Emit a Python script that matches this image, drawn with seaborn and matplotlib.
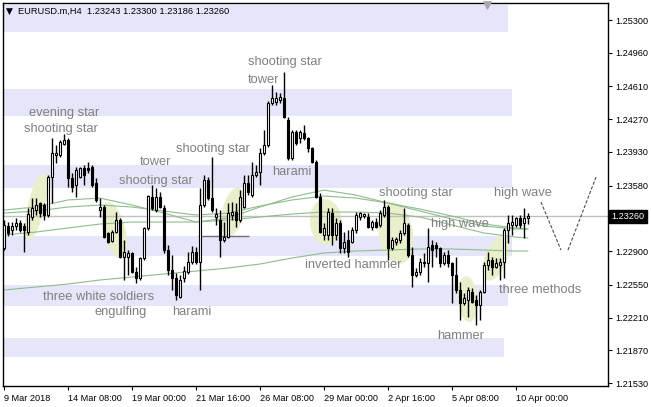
import numpy as np
import pandas as pd
import seaborn as sns
import matplotlib.pyplot as plt
from matplotlib.patches import Ellipse
from matplotlib.transforms import Affine2D

# EURUSD.m H4 candles, bar 0 = 9 Mar 2018 16:00
opens = [1.22932, 1.23160, 1.23119, 1.23160, 1.23192, 1.23160, 1.23098, 1.23254, 1.23327, 1.23399,
         1.23379, 1.23275, 1.23669, 1.23898, 1.23898, 1.24012, 1.24054, 1.23659, 1.23586, 1.23669,
         1.23763, 1.23763, 1.23773, 1.23607, 1.23327, 1.23358, 1.23088, 1.23005, 1.23098, 1.23223,
         1.22839, 1.22839, 1.22880, 1.22683, 1.22620, 1.22828, 1.23140, 1.23462, 1.23327, 1.23462,
         1.23347, 1.22911, 1.22704, 1.22620, 1.22423, 1.22620, 1.22683, 1.22787, 1.22890, 1.22787,
         1.23379, 1.23638, 1.23451, 1.23254, 1.23223, 1.23015, 1.23046, 1.23275, 1.23306, 1.23223,
         1.23358, 1.23607, 1.23482, 1.23690, 1.23721, 1.23919, 1.24002, 1.24438, 1.24448, 1.24469,
         1.24490, 1.24261, 1.23867, 1.24137, 1.24074, 1.24126, 1.24074, 1.23971, 1.23825, 1.23462,
         1.23067, 1.23067, 1.23295, 1.23067, 1.23192, 1.22932, 1.23015, 1.22994, 1.23119, 1.23254,
         1.23264, 1.23254, 1.23150, 1.23202, 1.23171, 1.23275, 1.23358, 1.22932, 1.22994, 1.23015,
         1.23088, 1.23171, 1.22859, 1.22652, 1.22683, 1.22776, 1.22776, 1.22963, 1.22963, 1.22932,
         1.22776, 1.22859, 1.22776, 1.22652, 1.22496, 1.22361, 1.22392, 1.22475, 1.22392, 1.22340,
         1.22475, 1.22755, 1.22807, 1.22735, 1.22755, 1.22787, 1.23119, 1.23171, 1.23171, 1.23244,
         1.23192, 1.23243]
highs = [1.23223, 1.23202, 1.23202, 1.23244, 1.23223, 1.23192, 1.23347, 1.23451, 1.23451, 1.23410,
         1.23399, 1.23690, 1.24074, 1.24002, 1.24054, 1.24116, 1.24074, 1.23711, 1.23773, 1.23773,
         1.23794, 1.23825, 1.23794, 1.23659, 1.23451, 1.23379, 1.23098, 1.23119, 1.23306, 1.23244,
         1.23015, 1.22911, 1.22890, 1.22735, 1.22839, 1.23150, 1.23482, 1.23586, 1.23555, 1.23514,
         1.23379, 1.22963, 1.22859, 1.22672, 1.22652, 1.22745, 1.22890, 1.22953, 1.22942, 1.23555,
         1.23690, 1.23669, 1.23877, 1.23347, 1.23327, 1.23202, 1.23399, 1.23410, 1.23399, 1.23534,
         1.23690, 1.23690, 1.23825, 1.23794, 1.23971, 1.24158, 1.24459, 1.24625, 1.24552, 1.24542,
         1.24760, 1.24293, 1.24158, 1.24158, 1.24158, 1.24209, 1.24084, 1.23981, 1.23846, 1.23503,
         1.23192, 1.23347, 1.23347, 1.23244, 1.23223, 1.23098, 1.23119, 1.23150, 1.23306, 1.23306,
         1.23295, 1.23295, 1.23223, 1.23244, 1.23327, 1.23431, 1.23379, 1.23046, 1.23046, 1.23119,
         1.23347, 1.23192, 1.22942, 1.22724, 1.22828, 1.22880, 1.23140, 1.23015, 1.22994, 1.22942,
         1.22890, 1.22911, 1.22787, 1.22839, 1.22579, 1.22465, 1.22527, 1.22517, 1.22444, 1.22496,
         1.22787, 1.22890, 1.22839, 1.22828, 1.22828, 1.23140, 1.23275, 1.23275, 1.23254, 1.23275,
         1.23347, 1.23300]
lows = [1.22911, 1.23057, 1.23067, 1.23119, 1.23098, 1.22890, 1.23067, 1.23223, 1.23275, 1.23254,
        1.23223, 1.23254, 1.23399, 1.23815, 1.23877, 1.24002, 1.23566, 1.23514, 1.23462, 1.23659,
        1.23586, 1.23711, 1.23566, 1.23410, 1.23254, 1.23036, 1.22984, 1.22994, 1.23088, 1.22828,
        1.22600, 1.22652, 1.22672, 1.22568, 1.22600, 1.22807, 1.23119, 1.23327, 1.23306, 1.23347,
        1.22880, 1.22652, 1.22496, 1.22392, 1.22413, 1.22579, 1.22662, 1.22766, 1.22766, 1.22496,
        1.23358, 1.23431, 1.23306, 1.23171, 1.22839, 1.22994, 1.23036, 1.23223, 1.23150, 1.23202,
        1.23347, 1.23482, 1.23462, 1.23669, 1.23586, 1.23898, 1.23981, 1.24417, 1.24417, 1.24438,
        1.24282, 1.23846, 1.23846, 1.24002, 1.24023, 1.24054, 1.23929, 1.23815, 1.23451, 1.23088,
        1.23015, 1.23015, 1.22963, 1.23015, 1.22880, 1.22880, 1.22839, 1.22984, 1.23088, 1.23223,
        1.23244, 1.23140, 1.23119, 1.23140, 1.23150, 1.23254, 1.22807, 1.22911, 1.22963, 1.22984,
        1.23067, 1.22839, 1.22527, 1.22631, 1.22652, 1.22735, 1.22579, 1.22735, 1.22839, 1.22735,
        1.22755, 1.22735, 1.22361, 1.22465, 1.22184, 1.22340, 1.22215, 1.22361, 1.22132, 1.22184,
        1.22465, 1.22704, 1.22652, 1.22724, 1.22600, 1.22620, 1.22984, 1.23067, 1.23150, 1.23140,
        1.23036, 1.23186]
closes = [1.23171, 1.23088, 1.23160, 1.23192, 1.23119, 1.23119, 1.23285, 1.23347, 1.23379, 1.23295,
          1.23275, 1.23669, 1.23919, 1.23919, 1.24033, 1.24054, 1.23659, 1.23566, 1.23742, 1.23763,
          1.23690, 1.23742, 1.23586, 1.23431, 1.23358, 1.23046, 1.22994, 1.23098, 1.23223, 1.22839,
          1.22890, 1.22880, 1.22683, 1.22620, 1.22828, 1.23140, 1.23472, 1.23347, 1.23462, 1.23358,
          1.22911, 1.22704, 1.22620, 1.22444, 1.22600, 1.22693, 1.22787, 1.22890, 1.22787, 1.23379,
          1.23638, 1.23451, 1.23327, 1.23285, 1.23015, 1.23046, 1.23295, 1.23306, 1.23223, 1.23462,
          1.23607, 1.23514, 1.23690, 1.23721, 1.23919, 1.24002, 1.24438, 1.24490, 1.24490, 1.24500,
          1.24293, 1.23867, 1.24137, 1.24023, 1.24137, 1.24074, 1.23971, 1.23825, 1.23462, 1.23098,
          1.23140, 1.23306, 1.23067, 1.23192, 1.22932, 1.22994, 1.22890, 1.23119, 1.23275, 1.23295,
          1.23285, 1.23150, 1.23202, 1.23150, 1.23295, 1.23358, 1.22932, 1.23015, 1.23025, 1.23088,
          1.23192, 1.22859, 1.22652, 1.22683, 1.22787, 1.22787, 1.22942, 1.22911, 1.22932, 1.22776,
          1.22859, 1.22776, 1.22652, 1.22496, 1.22361, 1.22413, 1.22496, 1.22371, 1.22340, 1.22475,
          1.22755, 1.22807, 1.22735, 1.22776, 1.22787, 1.23119, 1.23192, 1.23202, 1.23244, 1.23171,
          1.23244, 1.23260]

# moving averages, sampled every 8 bars
ma_bars = [0, 8, 16, 24, 32, 40, 48, 56, 64, 72, 80, 88, 96, 104, 112, 120, 128, 131]
ma_1 = [1.23327, 1.23358, 1.23431, 1.23451, 1.23379, 1.23295, 1.23202, 1.23244, 1.23358,
        1.23462, 1.23534, 1.23482, 1.23399, 1.23316, 1.23233, 1.23160, 1.23129, 1.23129]
ma_2 = [1.23295, 1.23316, 1.23358, 1.23379, 1.23358, 1.23316, 1.23275, 1.23295, 1.23368,
        1.23431, 1.23472, 1.23451, 1.23399, 1.23337, 1.23264, 1.23181, 1.23140, 1.23129]
ma_3 = [1.23067, 1.23098, 1.23140, 1.23181, 1.23202, 1.23202, 1.23202, 1.23223, 1.23254,
        1.23285, 1.23306, 1.23306, 1.23295, 1.23254, 1.23171, 1.23088, 1.23046, 1.23036]
ma_4 = [1.22496, 1.22527, 1.22558, 1.22600, 1.22631, 1.22662, 1.22693, 1.22724, 1.22766,
        1.22828, 1.22880, 1.22901, 1.22911, 1.22922, 1.22922, 1.22911, 1.22901, 1.22901]

# support / resistance zones: top, bottom, last bar
zone_top = [1.25456, 1.24583, 1.23794, 1.23057, 1.22548, 1.21997]
zone_bottom = [1.25175, 1.24303, 1.23555, 1.22849, 1.22330, 1.21800]
zone_end = [126, 127, 127, 127, 126, 125]

# pattern highlights: centre bar, centre price
hl_bar = [8.1, 27.6, 57.3, 80.5, 98.0, 123.0, 115.9]
hl_price = [1.23363, 1.23119, 1.23306, 1.23202, 1.23088, 1.22828, 1.22402]

pattern_text = ["evening star", "shooting star", "shooting star", "tower", "shooting star",
                "shooting star", "tower", "harami", "shooting star", "high wave",
                "three white soldiers", "engulfing", "harami", "inverted hammer",
                "high wave", "three methods", "hammer"]
pattern_bar = [15, 14.25, 52.25, 38, 38, 70.25, 65, 72, 103, 129.75,
               23.75, 29.25, 47, 87.25, 114, 134, 114.25]
pattern_price = [1.24334, 1.24168, 1.23960, 1.23825, 1.23628, 1.24864, 1.24677, 1.23721,
                 1.23503, 1.23503, 1.22423, 1.22267, 1.22267, 1.22755, 1.23181, 1.22496,
                 1.22018]

date_ticks = [0, 16, 32, 48, 64, 80, 96, 112, 128]
date_labels = ["9 Mar 2018", "14 Mar 08:00", "19 Mar 00:00", "21 Mar 16:00",
               "26 Mar 08:00", "29 Mar 00:00", "2 Apr 16:00", "5 Apr 08:00",
               "10 Apr 00:00"]
price_ticks = [1.25300, 1.24960, 1.24610, 1.24270, 1.23930, 1.23580,
               1.22900, 1.22550, 1.22210, 1.21870, 1.21530]
last_price = 1.23260

LAVENDER = "#E6E6FA"
HIGHLIGHT = "#E9EECB"
MA_COLOR = "#8FBC8F"
TEXT_GREY = "#808080"


def main():
    sns.set_style("white")
    plt.rcParams["font.family"] = ["Liberation Sans", "DejaVu Sans"]

    df = pd.DataFrame({"open": opens, "high": highs, "low": lows, "close": closes})
    df["bar"] = np.arange(len(df))
    up = df["close"] >= df["open"]

    fig = plt.figure(figsize=(6.51, 4.07), dpi=100)
    ax = fig.add_axes([0.0041, 0.0516, 0.92985, 0.94103])
    ax.set_xlim(-0.3, 151.0)
    ax.set_ylim(1.21499, 1.25477)

    for top, bottom, end in zip(zone_top, zone_bottom, zone_end):
        ax.fill_between([-0.3, end], bottom, top, color=LAVENDER, lw=0, zorder=0)

    # ellipses drawn in a pixel-like frame (1 unit = 1 px)
    px = Affine2D().scale(0.25, 0.00010386) + ax.transData
    shapes = [(68, 17, 77), (58, 22, 104), (50, 22, 77), (46, 32, 95),
              (62, 34, 100), (48, 22, 68), (46, 20, 95)]
    for b, p, (w, h, ang) in zip(hl_bar, hl_price, shapes):
        ax.add_patch(Ellipse((b * 4, p / 0.00010386), w, h, angle=ang,
                             transform=px, color=HIGHLIGHT, lw=0, zorder=1))

    ax.axhline(last_price, color="#C0C0C0", lw=1, zorder=2)
    ax.hlines(1.23057, 48.5, 61.25, color="#707070", lw=1, zorder=2)

    for ma in (ma_1, ma_2, ma_3, ma_4):
        sns.lineplot(x=ma_bars, y=ma, ax=ax, color=MA_COLOR, lw=0.8, zorder=2)

    # projected zigzag
    sns.lineplot(x=[134.25, 139.25], y=[1.23410, 1.22911], ax=ax, color="#505050",
                 lw=0.8, linestyle=(0, (3, 1.5)), zorder=2)
    sns.lineplot(x=[141, 148], y=[1.22911, 1.23669], ax=ax, color="#505050",
                 lw=0.8, linestyle=(0, (3, 1.5)), zorder=2)

    # candles
    ax.vlines(df["bar"], df["low"], df["high"], color="black", lw=1, zorder=3)
    body = (df["close"] - df["open"]).abs().clip(lower=0.00003)
    ax.bar(df["bar"][up], body[up], bottom=df["open"][up], width=0.6,
           color="white", edgecolor="black", lw=0.8, zorder=4)
    ax.bar(df["bar"][~up], body[~up], bottom=df["close"][~up], width=0.6,
           color="black", edgecolor="black", lw=0.8, zorder=4)

    for t, b, p in zip(pattern_text, pattern_bar, pattern_price):
        ax.text(b, p, t, ha="center", va="center", fontsize=9.3, color=TEXT_GREY, zorder=5)

    ax.yaxis.tick_right()
    ax.set_yticks(price_ticks)
    ax.set_yticklabels([f"{v:.5f}" for v in price_ticks])
    ax.set_xticks(date_ticks)
    ax.set_xticklabels(date_labels, ha="left")
    ax.tick_params(axis="both", length=3, width=0.8, labelsize=6.6, pad=2,
                   colors="black", direction="out")
    ax.tick_params(axis="x", bottom=True, pad=3)
    ax.tick_params(axis="y", right=True, left=False)
    ax.set_xlabel("")
    ax.set_ylabel("")
    for s in ax.spines.values():
        s.set_color("black")
        s.set_linewidth(1)

    ax.text(1.006, last_price, f"{last_price:.5f}", transform=ax.get_yaxis_transform(),
            ha="left", va="center", fontsize=6.6, color="white",
            bbox=dict(boxstyle="square,pad=0.25", fc="black", ec="black"))

    # chart shift marker
    ax.scatter([120.75], [0.995], transform=ax.get_xaxis_transform(), marker="v",
               s=28, color="#A8A8A8", clip_on=False, zorder=6)

    fig.text(6 / 651, 1 - 11 / 407, "\u25bc", fontsize=6.5, va="center", color="black",
             family=["DejaVu Sans"])
    fig.text(18 / 651, 1 - 11 / 407, "EURUSD.m,H4  1.23243 1.23300 1.23186 1.23260",
             fontsize=6.7, va="center", color="black")

    fig.savefig("out.png", dpi=100)


if __name__ == "__main__":
    main()
